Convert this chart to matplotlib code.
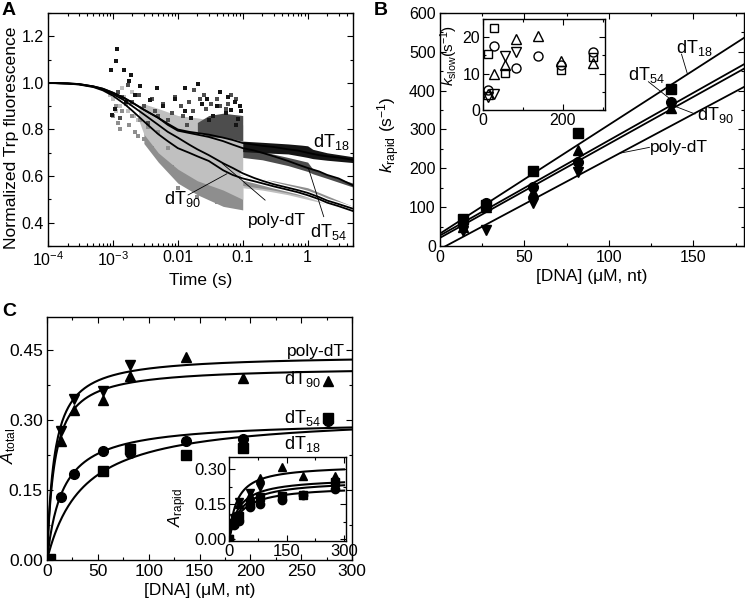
import numpy as np
import matplotlib.pyplot as plt
from matplotlib.ticker import MultipleLocator, FixedLocator, FixedFormatter, LogLocator, NullFormatter

plt.rcParams['font.family'] = ['Liberation Sans', 'DejaVu Sans']
plt.rcParams['mathtext.fontset'] = 'custom'
plt.rcParams['mathtext.rm'] = 'Liberation Sans'
plt.rcParams['mathtext.it'] = 'Liberation Sans:italic'
plt.rcParams['font.size'] = 11.5

# ---------------- panel A data ----------------
t_fit = [1e-4, 2e-4, 3e-4, 5e-4, 7e-4, 1e-3, 1.5e-3, 2e-3, 3e-3, 5e-3, 7e-3, 0.01, 0.015,
         0.02, 0.03, 0.05, 0.07, 0.1, 0.15, 0.2, 0.3, 0.5, 0.7, 1, 1.5, 2, 3, 5]
fit_dT18 = [1.0, 0.998, 0.995, 0.985, 0.975, 0.958, 0.935, 0.915, 0.885, 0.85, 0.825, 0.80, 0.79,
            0.785, 0.778, 0.765, 0.755, 0.742, 0.735, 0.73, 0.725, 0.715, 0.71, 0.70, 0.69, 0.685, 0.68, 0.67]
fit_dT54 = [1.0, 0.998, 0.995, 0.985, 0.975, 0.958, 0.935, 0.915, 0.885, 0.85, 0.82, 0.795, 0.785,
            0.778, 0.768, 0.75, 0.735, 0.72, 0.71, 0.70, 0.685, 0.665, 0.65, 0.635, 0.62, 0.605, 0.59, 0.56]
fit_polydT = [1.0, 0.997, 0.994, 0.984, 0.972, 0.952, 0.925, 0.90, 0.865, 0.82, 0.79, 0.765, 0.735,
              0.715, 0.69, 0.655, 0.635, 0.612, 0.592, 0.58, 0.565, 0.55, 0.54, 0.528, 0.51, 0.495, 0.48, 0.46]
fit_dT90 = [1.0, 0.997, 0.993, 0.982, 0.968, 0.945, 0.91, 0.88, 0.835, 0.78, 0.75, 0.72, 0.70,
            0.685, 0.665, 0.625, 0.605, 0.59, 0.578, 0.569, 0.556, 0.541, 0.531, 0.518, 0.501, 0.486, 0.471, 0.45]

# dense parts of the noisy traces (lower / upper edge of each cloud)
med_t = [0.003, 0.005, 0.01, 0.02, 0.05, 0.1]
med_lo = [0.74, 0.66, 0.57, 0.52, 0.47, 0.455]
med_hi = [0.80, 0.76, 0.68, 0.63, 0.60, 0.58]
light_t = [0.0025, 0.003, 0.005, 0.01, 0.02, 0.05, 0.1]
light_lo = [0.84, 0.78, 0.70, 0.63, 0.58, 0.54, 0.50]
light_hi = [0.90, 0.91, 0.89, 0.86, 0.85, 0.83, 0.82]
dark_t = [0.02, 0.03, 0.05, 0.07, 0.1]
dark_lo = [0.79, 0.77, 0.765, 0.76, 0.75]
dark_hi = [0.83, 0.86, 0.87, 0.865, 0.86]

slow_light_t = [0.1, 0.2, 0.5, 1, 2, 5]
slow_light_lo = [0.55, 0.54, 0.52, 0.50, 0.48, 0.45]
slow_light_hi = [0.60, 0.58, 0.56, 0.54, 0.51, 0.47]
slow_med_t = [0.1, 0.3, 1, 5]
slow_med_lo = [0.56, 0.54, 0.51, 0.45]
slow_med_hi = [0.60, 0.58, 0.55, 0.47]
slow_dark_t = [0.1, 0.2, 0.5, 1.0, 1.2, 2, 5]
slow_dark_lo = [0.68, 0.67, 0.645, 0.62, 0.61, 0.59, 0.553]
slow_dark_hi = [0.72, 0.705, 0.68, 0.66, 0.63, 0.605, 0.57]
slow_black_t = [0.1, 0.2, 0.5, 0.8, 1.0, 1.2, 2, 5]
slow_black_lo = [0.705, 0.70, 0.695, 0.685, 0.68, 0.675, 0.668, 0.658]
slow_black_hi = [0.75, 0.745, 0.738, 0.733, 0.73, 0.715, 0.70, 0.683]

# scattered single points
black_pts_t = [0.00117, 0.0011, 0.00094, 0.0015, 0.0019, 0.0018, 0.00098, 0.00106, 0.0026, 0.0037,
               0.0048, 0.0128, 0.0207, 0.0277, 0.0397, 0.067, 0.085, 0.0022, 0.0016, 0.006, 0.009,
               0.045, 0.055, 0.075, 0.09, 0.035, 0.013, 0.016, 0.024, 0.03, 0.06, 0.08, 0.095]
black_pts_y = [1.144, 1.093, 1.056, 1.054, 1.033, 1.01, 0.861, 0.889, 0.986, 0.926,
               0.976, 0.98, 0.997, 0.933, 0.90, 0.883, 0.843, 0.95, 0.92, 0.90, 0.93,
               0.96, 0.87, 0.92, 0.90, 0.86, 0.88, 0.85, 0.91, 0.84, 0.94, 0.82, 0.88]
dark_pts_t = [0.0012, 0.0014, 0.0017, 0.002, 0.0025, 0.003, 0.004, 0.0045, 0.006, 0.008,
              0.009, 0.011, 0.015, 0.018, 0.022, 0.025, 0.04, 0.06, 0.08, 0.0013, 0.0035,
              0.005, 0.007, 0.012, 0.014, 0.017, 0.027, 0.033, 0.045, 0.055, 0.065, 0.09]
dark_pts_y = [0.96, 0.94, 0.99, 0.92, 0.95, 0.90, 0.93, 0.88, 0.91, 0.87,
              0.94, 0.90, 0.92, 0.97, 0.93, 0.95, 0.93, 0.91, 0.93, 0.85, 0.83,
              0.86, 0.84, 0.86, 0.82, 0.88, 0.89, 0.91, 0.90, 0.89, 0.95, 0.90]
med_pts_t = [0.001, 0.0012, 0.0014, 0.0018, 0.0022, 0.0026, 0.003, 0.004, 0.006, 0.008,
             0.012, 0.015, 0.03, 0.07, 0.09, 0.0016, 0.0013, 0.0011, 0.002, 0.0024, 0.0035,
             0.005, 0.007, 0.01, 0.02, 0.04]
med_pts_y = [0.86, 0.83, 0.88, 0.82, 0.79, 0.84, 0.76, 0.72, 0.66, 0.64,
             0.60, 0.56, 0.53, 0.50, 0.48, 0.91, 0.80, 0.90, 0.86, 0.77, 0.81,
             0.79, 0.72, 0.55, 0.51, 0.49]
light_pts_t = [0.001, 0.0012, 0.0013, 0.0015, 0.0017, 0.002, 0.0024, 0.0009, 0.0011, 0.0014,
               0.0019, 0.0021]
light_pts_y = [0.93, 0.96, 0.90, 0.94, 0.88, 0.96, 0.84, 0.95, 0.88, 0.98, 0.91, 0.86]

# ---------------- panel B data ----------------
conc_B = [13.5, 27, 55, 82, 137]
k_dT18 = [70, 105, 192, 290, 405]
k_dT54 = [60, 110, 152, 217, 372]
k_dT90 = [50, 100, 140, 248, 355]
conc_B_poly = [13.5, 27, 55, 82]
k_polydT = [38, 40, 110, 190]
# linear fits: (slope, intercept)
lin_dT18 = (2.80, 32)
lin_dT54 = (2.45, 27)
lin_dT90 = (2.42, 21)
lin_polydT = (2.32, -8)

slow_sq_x = [13.5, 27, 55, 196, 276]
slow_sq_y = [15.5, 22.5, 10.2, 11.0, 14.5]
slow_ci_x = [13.5, 27, 82, 137, 196, 276]
slow_ci_y = [5.5, 17.5, 11.5, 14.8, 12.3, 15.8]
slow_up_x = [13.5, 27, 55, 82, 137, 196, 276]
slow_up_y = [4.5, 10.0, 12.5, 19.5, 20.2, 13.5, 12.8]
slow_dn_x = [13.5, 27, 55, 82]
slow_dn_y = [3.5, 4.5, 14.8, 16.0]

# ---------------- panel C data ----------------
cC_dT18 = [3, 55, 82, 137, 193, 276]
A_dT18 = [0.003, 0.19, 0.238, 0.225, 0.24, 0.305]
cC_dT54 = [13.5, 27, 55, 82, 137, 193, 276]
A_dT54 = [0.136, 0.185, 0.233, 0.229, 0.255, 0.26, 0.298]
cC_dT90 = [13.5, 27, 55, 82, 137, 193, 276]
A_dT90 = [0.255, 0.322, 0.342, 0.395, 0.435, 0.39, 0.383]
cC_poly = [13.5, 27, 55, 82]
A_poly = [0.277, 0.345, 0.363, 0.419]
# hyperbolic fits: (Amax, Kd)
hyp_total = {'poly': (0.44, 7.2), 'dT90': (0.415, 7.5), 'dT54': (0.299, 15.6), 'dT18': (0.313, 35.7)}

cI = [0, 13.5, 27, 55, 82, 137, 193, 276]
Ar_dT18 = [0.0, 0.07, 0.10, 0.15, 0.18, 0.185, 0.19, 0.245]
Ar_dT54 = [0.0, 0.06, 0.08, 0.14, 0.15, 0.17, 0.19, 0.215]
Ar_dT90 = [0.0, 0.10, 0.15, 0.19, 0.265, 0.31, 0.27, 0.27]
cI_poly = [0, 13.5, 27, 55, 82]
Ar_poly = [0.0, 0.09, 0.16, 0.20, 0.225]
hyp_rapid = [(0.32, 20), (0.265, 25), (0.255, 30), (0.23, 30)]


def style(ax, size=11.5, pad=3):
    ax.tick_params(which='both', direction='in', top=True, right=True, labelsize=size, width=0.8, pad=pad)
    ax.tick_params(which='major', length=4.5)
    ax.tick_params(which='minor', length=2.5)
    for s in ax.spines.values():
        s.set_linewidth(1.0)


fig = plt.figure(figsize=(7.45, 6.03), dpi=100)
W, H = 745.0, 603.0


def place(l, t, r, b):
    return [l / W, 1 - b / H, (r - l) / W, (b - t) / H]


# ---------------- A ----------------
axA = fig.add_axes(place(48, 13, 353, 246))
c_black, c_dark, c_med, c_light = '#151515', '#4d4d4d', '#8e8e8e', '#c0c0c0'
axA.fill_between(med_t, med_lo, med_hi, color=c_med, lw=0)
axA.fill_between(light_t, light_lo, light_hi, color=c_light, lw=0)
axA.fill_between(dark_t, dark_lo, dark_hi, color=c_dark, lw=0)
axA.fill_between(slow_light_t, slow_light_lo, slow_light_hi, color=c_light, lw=0)
axA.fill_between(slow_med_t, slow_med_lo, slow_med_hi, color=c_med, lw=0)
axA.fill_between(slow_dark_t, slow_dark_lo, slow_dark_hi, color=c_dark, lw=0)
axA.scatter(light_pts_t, light_pts_y, s=7, marker='s', color=c_light, lw=0)
axA.scatter(med_pts_t, med_pts_y, s=7, marker='s', color=c_med, lw=0)
axA.scatter(dark_pts_t, dark_pts_y, s=7, marker='s', color=c_dark, lw=0)
axA.scatter(black_pts_t, black_pts_y, s=7, marker='s', color=c_black, lw=0)

# white gap between the two lower fits after 0.1 s
k0 = t_fit.index(0.1)
for f in (fit_polydT, fit_dT90):
    axA.plot(t_fit[k0:], f[k0:], color='white', lw=3.0)
for f in (fit_dT18, fit_dT54, fit_polydT, fit_dT90):
    axA.plot(t_fit, f, color='black', lw=1.3)
axA.fill_between(slow_black_t, slow_black_lo, slow_black_hi, color=c_black, lw=0)

axA.set_xscale('log')
axA.set_xlim(1e-4, 5)
axA.set_ylim(0.3, 1.3)
axA.xaxis.set_major_locator(FixedLocator([1e-4, 1e-3, 1e-2, 1e-1, 1]))
axA.xaxis.set_major_formatter(FixedFormatter(['$10^{-4}$', '$10^{-3}$', '0.01', '0.1', '1']))
axA.xaxis.set_minor_locator(LogLocator(base=10, subs=np.arange(2, 10)))
axA.xaxis.set_minor_formatter(NullFormatter())
axA.yaxis.set_major_locator(FixedLocator([0.4, 0.6, 0.8, 1.0, 1.2]))
axA.yaxis.set_major_formatter(FixedFormatter(['0.4', '0.6', '0.8', '1.0', '1.2']))
axA.yaxis.set_minor_locator(MultipleLocator(0.1))
style(axA)
axA.set_xlabel('Time (s)', fontsize=12.5, labelpad=3)
axA.set_ylabel('Normalized Trp fluorescence', fontsize=12.6)
axA.yaxis.set_label_coords(-0.095, 0.465)

axA.text(1.2, 0.745, 'dT$_{18}$', fontsize=13, va='center')
axA.text(0.0062, 0.50, 'dT$_{90}$', fontsize=13, va='center')
axA.plot([0.0144, 0.057], [0.519, 0.61], color='black', lw=0.6)
axA.text(0.122, 0.41, 'poly-dT', fontsize=12.5, va='center')
axA.plot([0.221, 0.0485], [0.497, 0.654], color='black', lw=0.6)
axA.text(1.1, 0.36, 'dT$_{54}$', fontsize=13, va='center')
axA.plot([1.77, 1.03], [0.426, 0.633], color='black', lw=0.6)

# ---------------- B ----------------
axB = fig.add_axes(place(440, 13, 744, 246))
xs = np.array([0, 180])
for (m, b) in (lin_dT18, lin_dT54, lin_dT90, lin_polydT):
    axB.plot(xs, m * xs + b, color='black', lw=1.3)
ms = 7
axB.plot(conc_B, k_dT18, 's', color='black', ms=ms - 0.5)
axB.plot(conc_B, k_dT54, 'o', color='black', ms=ms)
axB.plot(conc_B, k_dT90, '^', color='black', ms=ms)
axB.plot(conc_B_poly, k_polydT, 'v', color='black', ms=ms)
axB.set_xlim(0, 180)
axB.set_ylim(0, 600)
axB.xaxis.set_major_locator(MultipleLocator(50))
axB.xaxis.set_minor_locator(MultipleLocator(25))
axB.yaxis.set_major_locator(MultipleLocator(100))
axB.yaxis.set_minor_locator(MultipleLocator(50))
style(axB)
axB.set_xlabel('[DNA] (μM, nt)', fontsize=12.5, labelpad=3)
axB.set_ylabel('$k_{\\mathrm{rapid}}$ (s$^{-1}$)', fontsize=12.5)
axB.yaxis.set_label_coords(-0.125, 0.48)

axB.text(139.5, 510, 'dT$_{18}$', fontsize=13, va='center')
axB.plot([143, 146.5], [494, 443], color='black', lw=0.6)
axB.text(111.5, 440, 'dT$_{54}$', fontsize=13, va='center')
axB.plot([123.4, 137], [423, 376], color='black', lw=0.6)
axB.text(152, 338, 'dT$_{90}$', fontsize=13, va='center')
axB.plot([151, 139], [340, 360], color='black', lw=0.6)
axB.text(124.5, 253, 'poly-dT', fontsize=12.5, va='center')
axB.plot([124, 106.6], [254, 239], color='black', lw=0.6)

axBi = fig.add_axes(place(483, 19, 605, 110))
mso = 6.5
axBi.plot(slow_sq_x, slow_sq_y, 's', mfc='none', mec='black', mew=1, ms=mso - 0.5)
axBi.plot(slow_ci_x, slow_ci_y, 'o', mfc='none', mec='black', mew=1, ms=mso)
axBi.plot(slow_up_x, slow_up_y, '^', mfc='none', mec='black', mew=1, ms=mso + 0.5)
axBi.plot(slow_dn_x, slow_dn_y, 'v', mfc='none', mec='black', mew=1, ms=mso + 0.5)
axBi.set_xlim(0, 305)
axBi.set_ylim(0, 25)
axBi.xaxis.set_major_locator(MultipleLocator(200))
axBi.xaxis.set_minor_locator(MultipleLocator(100))
axBi.yaxis.set_major_locator(MultipleLocator(10))
axBi.yaxis.set_minor_locator(MultipleLocator(5))
style(axBi, pad=2)
axBi.set_ylabel('$k_{\\mathrm{slow}}$(s$^{-1}$)', fontsize=11)
axBi.yaxis.set_label_coords(-0.19, 0.6)

# ---------------- C ----------------
axC = fig.add_axes(place(47, 317, 352, 560))
xc = np.linspace(0, 300, 301)
for key in ('poly', 'dT90', 'dT54', 'dT18'):
    amax, kd = hyp_total[key]
    axC.plot(xc, amax * xc / (kd + xc), color='black', lw=1.5)
axC.plot(cC_dT18, A_dT18, 's', color='black', ms=ms - 0.5)
axC.plot(cC_dT54, A_dT54, 'o', color='black', ms=ms)
axC.plot(cC_dT90, A_dT90, '^', color='black', ms=ms)
axC.plot(cC_poly, A_poly, 'v', color='black', ms=ms)
axC.set_xlim(0, 300)
axC.set_ylim(0, 0.521)
axC.xaxis.set_major_locator(MultipleLocator(50))
axC.xaxis.set_minor_locator(MultipleLocator(25))
axC.yaxis.set_major_locator(FixedLocator([0, 0.15, 0.30, 0.45]))
axC.yaxis.set_major_formatter(FixedFormatter(['0.00', '0.15', '0.30', '0.45']))
axC.yaxis.set_minor_locator(FixedLocator([0.075, 0.225, 0.375]))
style(axC, size=12.5)
axC.set_xlabel('[DNA] (μM, nt)', fontsize=12.5, labelpad=3)
axC.set_ylabel('$A_{\\mathrm{total}}$', fontsize=12.5)
axC.yaxis.set_label_coords(-0.095, 0.47)
axC.text(236, 0.447, 'poly-dT', fontsize=12.5, va='center')
axC.text(233, 0.388, 'dT$_{90}$', fontsize=13, va='center')
axC.text(233, 0.305, 'dT$_{54}$', fontsize=13, va='center')
axC.text(233, 0.248, 'dT$_{18}$', fontsize=13, va='center')

axCi = fig.add_axes(place(229, 457, 346, 541))
xi = np.linspace(0, 300, 301)
for amax, kd in hyp_rapid:
    axCi.plot(xi, amax * xi / (kd + xi), color='black', lw=1.5)
msi = 6
axCi.plot(cI, Ar_dT18, 's', color='black', ms=msi - 0.5)
axCi.plot(cI, Ar_dT54, 'o', color='black', ms=msi)
axCi.plot(cI, Ar_dT90, '^', color='black', ms=msi)
axCi.plot(cI_poly, Ar_poly, 'v', color='black', ms=msi)
axCi.set_xlim(0, 305)
axCi.set_ylim(-0.007, 0.353)
axCi.xaxis.set_major_locator(MultipleLocator(150))
axCi.xaxis.set_minor_locator(MultipleLocator(75))
axCi.yaxis.set_major_locator(FixedLocator([0, 0.15, 0.30]))
axCi.yaxis.set_major_formatter(FixedFormatter(['0.00', '0.15', '0.30']))
axCi.yaxis.set_minor_locator(FixedLocator([0.075, 0.225]))
style(axCi, size=12, pad=2)
axCi.set_ylabel('$A_{\\mathrm{rapid}}$', fontsize=12)
axCi.yaxis.set_label_coords(-0.34, 0.4)

fig.text(2 / W, 1 - 2 / H, 'A', fontsize=14, fontweight='bold', va='top', ha='left')
fig.text(374 / W, 1 - 2 / H, 'B', fontsize=14, fontweight='bold', va='top', ha='left')
fig.text(2 / W, 1 - 303 / H, 'C', fontsize=14, fontweight='bold', va='top', ha='left')

fig.savefig('out.png', dpi=100)
